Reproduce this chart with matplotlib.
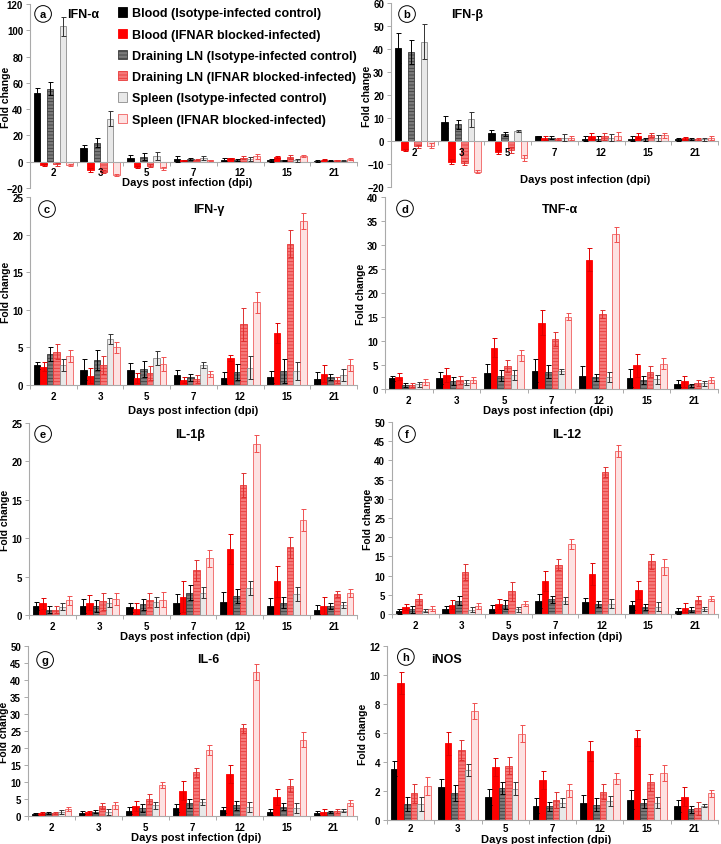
import numpy as np
import matplotlib
matplotlib.use("Agg")
import matplotlib.pyplot as plt

plt.rcParams['font.family'] = ['Liberation Sans', 'DejaVu Sans']
plt.rcParams['font.weight'] = 'bold'
plt.rcParams['hatch.linewidth'] = 0.6

DAYS = ['2', '3', '5', '7', '12', '15', '21']
SERIES = ['Blood (Isotype-infected control)',
          'Blood (IFNAR blocked-infected)',
          'Draining LN (Isotype-infected control)',
          'Draining LN (IFNAR blocked-infected)',
          'Spleen (Isotype-infected control)',
          'Spleen (IFNAR blocked-infected)']

# fold change per series (rows) and day (columns), plus error bar size
IFNA = [[52, 10.6, 3, 2, 1.5, 1, 0.8],
        [-2.5, -6.6, -4.3, 1, 2.5, 3.5, 1.5],
        [55.5, 14.4, 3.8, 2, 1.5, 1, 0.8],
        [-2, -7.6, -3, 1.5, 3, 3.5, 1],
        [103, 32.8, 4.5, 2.5, 2, 1, 0.8],
        [-2.5, -10, -5, 1, 4, 4.5, 2]]
IFNA_ERR = [[4, 2.4, 2, 2, 1, 1, 0.7],
            [0.8, 1.5, 0.8, 0.5, 0.6, 1, 0.4],
            [5, 3.3, 2.7, 1, 0.8, 0.5, 0.4],
            [1, 1, 1, 0.5, 1, 1.5, 0.4],
            [7, 6, 3, 1.5, 1.5, 1, 0.5],
            [0.6, 1, 1, 0.4, 2, 0.6, 0.7]]

IFNB = [[40.3, 8.1, 3.3, 2, 1, 1, 0.8],
        [-3.8, -9, -4.6, 1.3, 2.2, 2.2, 1.2],
        [38.8, 7.2, 3, 1.5, 1, 0.8, 0.8],
        [-2.3, -9.6, -3.8, 1, 2, 2.5, 1],
        [43.2, 9.4, 4.5, 1.5, 1.5, 1.2, 0.8],
        [-2, -13.3, -7.5, 1.3, 2.3, 2.5, 1.2]]
IFNB_ERR = [[6.5, 2.6, 1.3, 0.3, 1, 1.2, 0.7],
            [0.5, 1, 0.9, 0.7, 1.3, 1.1, 0.6],
            [5.2, 2.1, 1, 0.7, 1, 0.7, 0.5],
            [0.7, 0.9, 1.2, 0.5, 1.5, 0.8, 0.4],
            [7.7, 3.4, 0.5, 1.5, 1.5, 1.3, 0.7],
            [1, 0.7, 1.2, 0.7, 1.7, 1, 0.8]]

IFNG = [[2.6, 2.0, 2.0, 1.3, 0.9, 1.0, 0.8],
        [2.4, 1.2, 0.9, 0.7, 3.6, 6.9, 1.5],
        [4.1, 3.3, 2.1, 1.0, 1.7, 1.8, 1.1],
        [4.4, 2.6, 1.6, 0.8, 8.1, 18.8, 0.7],
        [2.6, 6.1, 3.6, 2.7, 2.3, 1.8, 1.3],
        [3.8, 5.0, 2.8, 1.5, 11.0, 21.8, 2.6]]
IFNG_ERR = [[0.5, 1.4, 0.9, 0.7, 0.8, 0.8, 0.9],
            [0.6, 1.0, 0.7, 0.4, 0.4, 1.3, 1.1],
            [0.9, 1.3, 1.1, 0.5, 1.1, 1.6, 0.4],
            [1.0, 1.2, 0.9, 0.5, 2.2, 1.8, 0.4],
            [0.8, 0.7, 0.9, 0.4, 1.5, 1.2, 0.8],
            [0.8, 0.7, 0.9, 0.4, 1.4, 1.1, 0.8]]

TNFA = [[2.2, 2.3, 3.4, 3.8, 2.7, 2.3, 1.1],
        [2.6, 2.9, 8.6, 13.8, 26.9, 4.9, 1.6],
        [0.8, 1.7, 2.8, 3.6, 2.4, 1.9, 0.8],
        [0.8, 1.9, 4.8, 10.4, 15.6, 3.6, 1.2],
        [1.0, 1.3, 2.9, 3.7, 2.5, 2.0, 1.2],
        [1.4, 1.9, 7.0, 15.1, 32.2, 5.3, 1.9]]
TNFA_ERR = [[0.6, 1.2, 1.8, 2.4, 2.0, 1.8, 0.7],
            [0.8, 1.5, 2.0, 2.6, 2.4, 2.4, 1.1],
            [0.4, 0.9, 1.2, 1.3, 0.8, 0.9, 0.3],
            [0.4, 0.9, 1.2, 1.4, 0.9, 1.2, 0.6],
            [0.5, 0.5, 1.0, 0.5, 1.1, 0.9, 0.5],
            [0.6, 0.6, 1.1, 0.8, 1.5, 1.1, 0.6]]

IL1B = [[1.2, 1.2, 1.0, 1.5, 1.7, 1.2, 0.7],
        [1.5, 1.6, 0.8, 2.4, 8.6, 4.4, 1.2],
        [0.7, 1.2, 1.4, 2.9, 2.5, 1.6, 1.2],
        [0.7, 1.8, 2.0, 5.8, 16.9, 8.8, 2.7],
        [1.1, 1.6, 1.7, 2.9, 3.5, 2.7, 1.3],
        [1.9, 2.1, 2.0, 7.4, 22.3, 12.4, 2.9]]
IL1B_ERR = [[0.5, 0.9, 0.6, 1.2, 1.3, 1.0, 0.6],
            [0.7, 1.0, 0.7, 2.0, 1.9, 2.0, 1.1],
            [0.5, 0.8, 0.7, 1.0, 0.9, 0.7, 0.4],
            [0.5, 1.1, 0.9, 1.4, 1.6, 1.4, 0.4],
            [0.5, 0.6, 0.7, 0.7, 0.9, 0.9, 0.4],
            [0.6, 0.8, 1.0, 1.1, 1.1, 1.4, 0.5]]

IL12 = [[0.7, 1.2, 1.4, 3.4, 3.0, 2.3, 0.8],
        [1.8, 2.4, 2.5, 8.6, 10.4, 6.3, 1.6],
        [1.2, 3.5, 2.4, 3.8, 2.6, 1.8, 1.1],
        [3.8, 10.9, 5.9, 12.8, 37.0, 13.7, 3.7],
        [0.9, 1.1, 1.2, 3.5, 2.7, 1.9, 1.3],
        [1.4, 2.0, 2.7, 18.2, 42.4, 12.2, 4.0]]
IL12_ERR = [[0.6, 1.0, 1.0, 1.9, 1.1, 1.2, 0.7],
            [0.8, 1.2, 1.3, 2.7, 2.8, 2.4, 1.2],
            [1.0, 1.2, 1.2, 1.0, 0.9, 0.8, 0.7],
            [1.5, 2.1, 2.5, 1.4, 1.3, 2.0, 1.0],
            [0.5, 0.7, 0.6, 0.9, 1.1, 1.1, 0.6],
            [0.7, 0.8, 0.7, 1.3, 1.6, 2.0, 0.7]]

IL6 = [[0.7, 1.0, 1.6, 2.3, 1.8, 1.3, 0.8],
       [0.9, 1.1, 2.9, 7.4, 12.3, 5.6, 1.1],
       [0.8, 1.3, 2.3, 3.8, 3.2, 2.7, 1.1],
       [0.9, 2.9, 5.0, 12.8, 25.8, 8.9, 1.6],
       [1.2, 1.3, 3.2, 4.0, 2.6, 2.3, 1.6],
       [2.0, 3.1, 9.1, 19.4, 42.4, 22.4, 3.8]]
IL6_ERR = [[0.3, 0.4, 1.0, 1.1, 0.9, 0.9, 0.6],
           [0.4, 0.5, 1.4, 2.8, 2.7, 2.3, 0.9],
           [0.3, 0.5, 1.1, 1.3, 1.3, 1.0, 0.3],
           [0.4, 0.8, 1.6, 1.2, 1.3, 1.9, 0.6],
           [0.5, 0.9, 1.0, 0.9, 1.4, 1.4, 0.4],
           [0.6, 1.1, 0.9, 1.4, 2.4, 2.2, 0.9]]

INOS = [[3.55, 2.25, 1.6, 1.0, 1.15, 1.4, 0.95],
        [9.45, 5.3, 3.65, 2.75, 4.75, 5.65, 1.6],
        [1.1, 1.85, 2.2, 0.95, 1.05, 1.15, 0.75],
        [1.85, 4.85, 3.75, 1.35, 1.95, 2.6, 0.8],
        [1.1, 3.45, 2.15, 1.2, 1.3, 1.2, 1.0],
        [2.35, 7.55, 5.95, 2.05, 2.85, 3.25, 1.85]]
INOS_ERR = [[0.5, 0.55, 0.55, 0.5, 0.6, 0.65, 0.4],
            [0.75, 0.8, 0.6, 0.6, 0.7, 0.55, 0.65],
            [0.5, 0.55, 0.4, 0.3, 0.45, 0.3, 0.25],
            [0.65, 0.7, 0.6, 0.55, 0.5, 0.6, 0.45],
            [0.5, 0.4, 0.45, 0.3, 0.35, 0.4, 0.1],
            [0.6, 0.55, 0.6, 0.45, 0.4, 0.55, 0.25]]

# bar styles: face, edge (also hatch colour), hatch, errorbar colour
faces = ['#000000', '#ff0000', '#7a7a7a', '#f57a7a', '#e8e8e8', '#fde2e2']
edges = ['#000000', '#ff0000', '#3c3c3c', '#e83a3a', '#8c8c8c', '#f06060']
hatches = [None, None, '-----', '-----', None, None]
ecols = ['#000000', '#e00000', '#000000', '#e03030', '#333333', '#f05050']

W, H = 721, 845


def rect(l, t, r, b):
    return [l / W, 1 - b / H, (r - l) / W, (b - t) / H]


def panel(box, mean, err, ylim, step, title, tpos, letter, lpos, xlpos, tpad=4):
    ax = fig.add_axes(rect(*box))
    x = np.arange(len(DAYS))
    bw = 0.14
    bars = []
    for i in range(6):
        b = ax.bar(x + (i - 2.5) * bw, mean[i], bw, color=faces[i],
                   edgecolor=edges[i], hatch=hatches[i], linewidth=0.6,
                   label=SERIES[i], zorder=2)
        ax.errorbar(x + (i - 2.5) * bw, mean[i], yerr=err[i], fmt='none',
                    ecolor=ecols[i], elinewidth=0.7, capsize=1.8,
                    capthick=0.7, zorder=3)
        bars.append(b)
    ax.set_axisbelow(False)
    ax.set_xlim(-0.5, 6.5)
    ax.set_ylim(*ylim)
    ax.set_yticks(np.arange(ylim[0], ylim[1] + step / 2, step))
    ax.set_xticks(x)
    ax.set_xticklabels(DAYS)
    ax.set_xticks(np.arange(-0.5, 7, 1), minor=True)
    ax.tick_params(axis='x', which='major', length=0, labelsize=7, pad=tpad)
    ax.tick_params(axis='x', which='minor', length=3, color='#aaaaaa', width=0.7)
    ax.tick_params(axis='y', length=3, color='#aaaaaa', width=0.7,
                   labelsize=7, pad=2)
    for s in ['top', 'right']:
        ax.spines[s].set_visible(False)
    ax.spines['left'].set_color('#aaaaaa')
    ax.spines['bottom'].set_color('#aaaaaa')
    ax.spines['left'].set_linewidth(0.8)
    ax.spines['bottom'].set_linewidth(0.8)
    ax.spines['bottom'].set_position(('data', 0))
    ax.set_ylabel('Fold change', fontsize=7.5, fontweight='bold')
    ax.yaxis.set_label_coords(-0.058, 0.5)
    ax.set_xlabel('Days post infection (dpi)', fontsize=8, fontweight='bold')
    ax.xaxis.set_label_coords(*xlpos)
    ax.text(tpos[0], tpos[1], title, transform=ax.transAxes, ha='center',
            va='center', fontsize=9, fontweight='bold')
    ax.text(lpos[0], lpos[1], letter, transform=ax.transAxes, ha='center',
            va='center', fontsize=8,
            bbox=dict(boxstyle='circle,pad=0.3', fc='white', ec='black', lw=0.7))
    return ax, bars


fig = plt.figure(figsize=(7.21, 8.45), dpi=100)

ax, bars = panel((30, 5, 357, 189), IFNA, IFNA_ERR, (-20, 120), 20,
                 'IFN-α', (0.162, 0.946), 'a', (0.04, 0.946), (0.48, 0.06))
ax.legend(handles=bars, loc='upper left', bbox_to_anchor=(0.268, 0.982),
          frameon=False, fontsize=9, handlelength=0.75, handleheight=0.75,
          handletextpad=0.4, labelspacing=0.74, borderpad=0, borderaxespad=0)

panel((391, 4, 718, 188), IFNB, IFNB_ERR, (-20, 60), 10,
      'IFN-β', (0.232, 0.94), 'b', (0.049, 0.94), (0.593, 0.07))
panel((30, 198, 357, 386), IFNG, IFNG_ERR, (0, 25), 5,
      'IFN-γ', (0.547, 0.936), 'c', (0.052, 0.936), (0.5, -0.106))
panel((385, 198, 718, 390), TNFA, TNFA_ERR, (0, 40), 5,
      'TNF-α', (0.526, 0.94), 'd', (0.06, 0.94), (0.49, -0.083))
panel((29, 424, 357, 616), IL1B, IL1B_ERR, (0, 25), 5,
      'IL-1β', (0.49, 0.943), 'e', (0.043, 0.943), (0.475, -0.083))
panel((392, 423, 718, 615), IL12, IL12_ERR, (0, 50), 5,
      'IL-12', (0.537, 0.937), 'f', (0.046, 0.937), (0.506, -0.09))
panel((28, 647, 357, 817), IL6, IL6_ERR, (0, 50), 5,
      'IL-6', (0.547, 0.924), 'g', (0.052, 0.918), (0.51, -0.094))
panel((387, 647, 718, 821), INOS, INOS_ERR, (0, 12), 2,
      'iNOS', (0.18, 0.925), 'h', (0.057, 0.937), (0.48, -0.08), tpad=2)

plt.savefig('out.png', dpi=100)
